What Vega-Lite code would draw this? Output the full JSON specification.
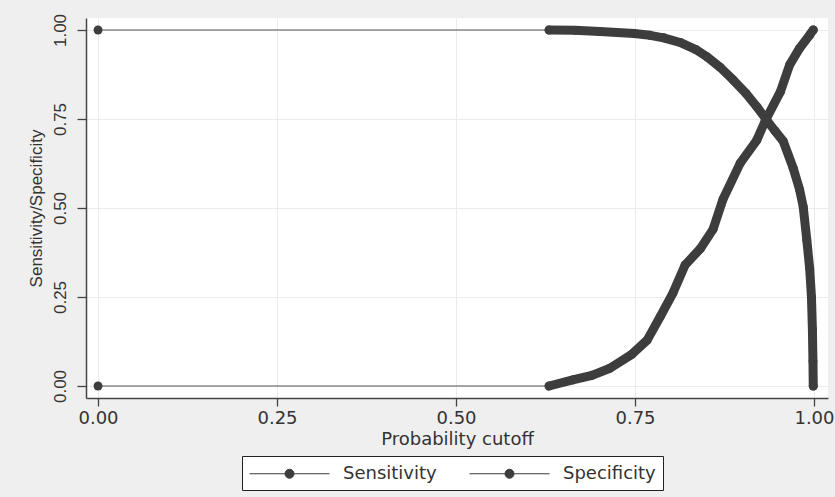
{
  "$schema": "https://vega.github.io/schema/vega-lite/v6.json",
  "width": 742,
  "height": 380,
  "autosize": {"type": "none"},
  "padding": {"left": 86, "top": 18, "right": 7, "bottom": 99},
  "background": "#efefef",
  "config": {
    "view": {"fill": "white", "stroke": null},
    "axis": {
      "domainColor": "#444444",
      "domainWidth": 1.5,
      "tickColor": "#444444",
      "tickWidth": 1.3,
      "gridColor": "#ebebeb",
      "gridWidth": 1,
      "labelColor": "#333333",
      "titleColor": "#333333",
      "titleFontWeight": "normal"
    }
  },
  "data": {
    "values": [
      {"cutoff": 0.0, "value": 1.0, "series": "Sensitivity"},
      {"cutoff": 0.630, "value": 1.0, "series": "Sensitivity"},
      {"cutoff": 0.666, "value": 0.999, "series": "Sensitivity"},
      {"cutoff": 0.701, "value": 0.996, "series": "Sensitivity"},
      {"cutoff": 0.749, "value": 0.990, "series": "Sensitivity"},
      {"cutoff": 0.771, "value": 0.985, "series": "Sensitivity"},
      {"cutoff": 0.790, "value": 0.978, "series": "Sensitivity"},
      {"cutoff": 0.813, "value": 0.965, "series": "Sensitivity"},
      {"cutoff": 0.835, "value": 0.945, "series": "Sensitivity"},
      {"cutoff": 0.851, "value": 0.924, "series": "Sensitivity"},
      {"cutoff": 0.869, "value": 0.895, "series": "Sensitivity"},
      {"cutoff": 0.887, "value": 0.860, "series": "Sensitivity"},
      {"cutoff": 0.905, "value": 0.822, "series": "Sensitivity"},
      {"cutoff": 0.920, "value": 0.785, "series": "Sensitivity"},
      {"cutoff": 0.934, "value": 0.747, "series": "Sensitivity"},
      {"cutoff": 0.945, "value": 0.718, "series": "Sensitivity"},
      {"cutoff": 0.957, "value": 0.688, "series": "Sensitivity"},
      {"cutoff": 0.971, "value": 0.612, "series": "Sensitivity"},
      {"cutoff": 0.980, "value": 0.551, "series": "Sensitivity"},
      {"cutoff": 0.985, "value": 0.503, "series": "Sensitivity"},
      {"cutoff": 0.990, "value": 0.410, "series": "Sensitivity"},
      {"cutoff": 0.994, "value": 0.330, "series": "Sensitivity"},
      {"cutoff": 0.9965, "value": 0.250, "series": "Sensitivity"},
      {"cutoff": 0.9978, "value": 0.160, "series": "Sensitivity"},
      {"cutoff": 0.9986, "value": 0.070, "series": "Sensitivity"},
      {"cutoff": 0.9990, "value": 0.0, "series": "Sensitivity"},
      {"cutoff": 0.0, "value": 0.0, "series": "Specificity"},
      {"cutoff": 0.630, "value": 0.0, "series": "Specificity"},
      {"cutoff": 0.663, "value": 0.017, "series": "Specificity"},
      {"cutoff": 0.690, "value": 0.030, "series": "Specificity"},
      {"cutoff": 0.715, "value": 0.050, "series": "Specificity"},
      {"cutoff": 0.745, "value": 0.088, "series": "Specificity"},
      {"cutoff": 0.767, "value": 0.129, "series": "Specificity"},
      {"cutoff": 0.785, "value": 0.194, "series": "Specificity"},
      {"cutoff": 0.803, "value": 0.261, "series": "Specificity"},
      {"cutoff": 0.820, "value": 0.340, "series": "Specificity"},
      {"cutoff": 0.841, "value": 0.385, "series": "Specificity"},
      {"cutoff": 0.859, "value": 0.440, "series": "Specificity"},
      {"cutoff": 0.873, "value": 0.525, "series": "Specificity"},
      {"cutoff": 0.897, "value": 0.626, "series": "Specificity"},
      {"cutoff": 0.920, "value": 0.690, "series": "Specificity"},
      {"cutoff": 0.932, "value": 0.745, "series": "Specificity"},
      {"cutoff": 0.953, "value": 0.826, "series": "Specificity"},
      {"cutoff": 0.966, "value": 0.902, "series": "Specificity"},
      {"cutoff": 0.980, "value": 0.949, "series": "Specificity"},
      {"cutoff": 0.994, "value": 0.986, "series": "Specificity"},
      {"cutoff": 0.999, "value": 1.0, "series": "Specificity"}
    ]
  },
  "encoding": {
    "x": {
      "field": "cutoff",
      "type": "quantitative",
      "scale": {"domain": [-0.0168, 1.0196], "nice": false, "zero": false},
      "axis": {
        "values": [0, 0.25, 0.5, 0.75, 1],
        "format": ".2f",
        "title": "Probability cutoff",
        "tickSize": 8,
        "labelFont": "DejaVu Sans",
        "labelFontSize": 18,
        "labelPadding": 3,
        "titleFont": "DejaVu Sans",
        "titleFontSize": 18,
        "titlePadding": 3
      }
    },
    "y": {
      "field": "value",
      "type": "quantitative",
      "scale": {"domain": [-0.0337, 1.0337], "nice": false, "zero": false},
      "axis": {
        "values": [0, 0.25, 0.5, 0.75, 1],
        "format": ".2f",
        "title": "Sensitivity/Specificity",
        "tickSize": 9,
        "labelAngle": -90,
        "labelFont": "Liberation Sans",
        "labelFontSize": 17,
        "labelPadding": 8,
        "titleFont": "Liberation Sans",
        "titleFontSize": 17,
        "titlePadding": 6
      }
    }
  },
  "layer": [
    {
      "mark": {"type": "line", "color": "#555555", "strokeWidth": 1.2},
      "encoding": {"detail": {"field": "series"}}
    },
    {
      "transform": [{"filter": "datum.cutoff >= 0.6"}],
      "mark": {"type": "line", "color": "#3d3d3d", "strokeWidth": 9, "strokeCap": "round", "strokeJoin": "round"},
      "encoding": {"detail": {"field": "series"}}
    },
    {
      "mark": {"type": "point", "filled": true, "shape": "circle", "size": 80, "opacity": 1},
      "encoding": {
        "color": {
          "field": "series",
          "type": "nominal",
          "scale": {"domain": ["Sensitivity", "Specificity"], "range": ["#3d3d3d", "#3d3d3d"]},
          "legend": {
            "title": null,
            "orient": "none",
            "legendX": 156,
            "legendY": 438,
            "direction": "horizontal",
            "symbolType": "M-4,0H4M0.45,0A0.45,0.45,0,1,1,-0.45,0A0.45,0.45,0,1,1,0.45,0Z",
            "symbolSize": 400,
            "symbolOffset": 30,
            "symbolStrokeWidth": 1,
            "symbolFillColor": "#3d3d3d",
            "symbolStrokeColor": "#3d3d3d",
            "symbolOpacity": 1,
            "labelFont": "DejaVu Sans",
            "labelFontSize": 18,
            "labelColor": "#333333",
            "labelOffset": 43,
            "labelLimit": 0,
            "columnPadding": 30,
            "padding": 7,
            "strokeColor": "#222222",
            "fillColor": "white"
          }
        }
      }
    }
  ]
}
